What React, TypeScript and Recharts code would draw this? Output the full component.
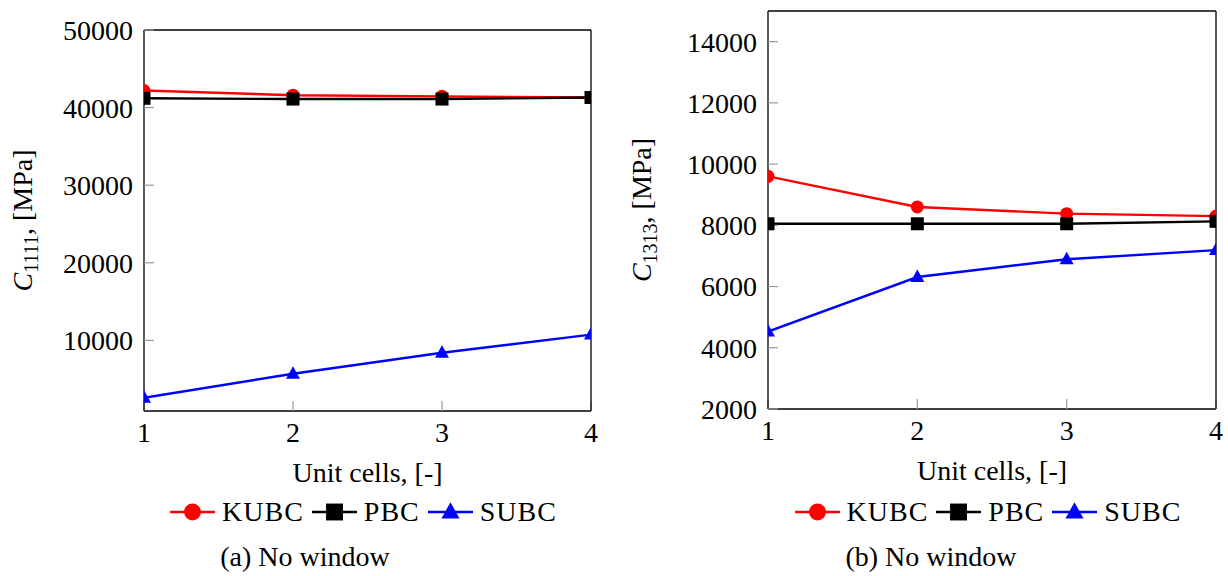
import React from "react";
import { LineChart, Line, XAxis, YAxis } from "recharts";

const units = [1, 2, 3, 4];

// (a) C1111
const kubcA = [42200, 41600, 41450, 41300];
const pbcA = [41200, 41100, 41100, 41300];
const subcA = [2600, 5700, 8400, 10750];

// (b) C1313
const kubcB = [9600, 8600, 8380, 8300];
const pbcB = [8050, 8050, 8050, 8130];
const subcB = [4530, 6310, 6890, 7190];

const yTicksA = [10000, 20000, 30000, 40000, 50000];
const yTicksB = [2000, 4000, 6000, 8000, 10000, 12000, 14000];

const FONT = "Liberation Serif, DejaVu Serif, serif";
const FS = 28;
const W = 614;
const H = 576;

const SERIES = [
  { key: "kubc", name: "KUBC", color: "#ff0000", marker: "circle" },
  { key: "pbc", name: "PBC", color: "#000000", marker: "square" },
  { key: "subc", name: "SUBC", color: "#0000ff", marker: "triangle" },
];

function Marker({ cx, cy, kind, color, s = 1 }: any) {
  if (cx == null || cy == null) return null;
  if (kind === "circle") return <circle cx={cx} cy={cy} r={6.5 * s} fill={color} />;
  if (kind === "square")
    return <rect x={cx - 6.5 * s} y={cy - 6.5 * s} width={13 * s} height={13 * s} fill={color} />;
  return (
    <polygon
      points={`${cx},${cy - 7.5 * s} ${cx - 7 * s},${cy + 5 * s} ${cx + 7 * s},${cy + 5 * s}`}
      fill={color}
    />
  );
}

function YTitle({ viewBox, x, sub }: any) {
  const cy = viewBox.y + viewBox.height / 2;
  return (
    <text
      x={x}
      y={cy}
      transform={`rotate(-90, ${x}, ${cy})`}
      textAnchor="middle"
      style={{ fontFamily: FONT, fontSize: FS }}
      fill="#000"
    >
      <tspan fontStyle="italic">C</tspan>
      <tspan style={{ fontSize: 20 }} dy={6}>
        {sub}
      </tspan>
      <tspan dy={-6}>, [MPa]</tspan>
    </text>
  );
}

function XTitle({ viewBox, gap }: any) {
  return (
    <text
      x={viewBox.x + viewBox.width / 2}
      y={viewBox.y + gap}
      textAnchor="middle"
      style={{ fontFamily: FONT, fontSize: FS }}
      fill="#000"
    >
      Unit cells, [-]
    </text>
  );
}

function LegendRow() {
  return (
    <div
      style={{
        display: "flex",
        alignItems: "center",
        justifyContent: "center",
        height: 32,
        fontFamily: FONT,
        fontSize: FS,
        lineHeight: "28px",
        letterSpacing: 1,
      }}
    >
      {SERIES.map((s) => (
        <div key={s.key} style={{ display: "flex", alignItems: "center" }}>
          <svg width={45} height={22}>
            <line x1={0} y1={11} x2={45} y2={11} stroke={s.color} strokeWidth={2.4} />
            <Marker cx={22.5} cy={11} kind={s.marker} color={s.color} s={1.3} />
          </svg>
          <span style={{ marginLeft: 7, marginRight: 8 }}>{s.name}</span>
        </div>
      ))}
    </div>
  );
}

function Panel({ offsetX, plot, values, yTicks, yDomain, sub, titleX, xGap, caption, captionX }: any) {
  const data = units.map((u, i) => ({
    x: u,
    kubc: values[0][i],
    pbc: values[1][i],
    subc: values[2][i],
  }));
  const yW = 100;
  const xH = 60;
  const margin = {
    left: plot.left - yW,
    right: W - plot.right - 1,
    top: plot.top - 1,
    bottom: H - plot.bottom - xH,
  };
  const axisLine = { stroke: "#000", strokeWidth: 1.3 };
  const tickLine = { stroke: "#999", strokeWidth: 1.2 };
  const tickStyle = { fontSize: FS, fill: "#000", fontFamily: FONT, style: { fontFamily: FONT } };

  return (
    <div style={{ position: "absolute", left: offsetX, top: 0, width: W, height: H }}>
      <LineChart width={W} height={H} data={data} margin={margin} style={{ fontFamily: FONT }}>
        <XAxis
          dataKey="x"
          type="number"
          domain={[1, 4]}
          ticks={units}
          allowDataOverflow
          height={xH}
          tickSize={-10}
          tickMargin={21}
          tick={tickStyle}
          tickLine={tickLine}
          axisLine={axisLine}
          label={(p: any) => <XTitle viewBox={p.viewBox} gap={xGap} />}
        />
        <XAxis
          xAxisId="top"
          orientation="top"
          type="number"
          domain={[1, 4]}
          ticks={units}
          allowDataOverflow
          height={1}
          tickSize={-10}
          tick={false}
          tickLine={tickLine}
          axisLine={axisLine}
        />
        <YAxis
          type="number"
          domain={yDomain}
          ticks={yTicks}
          allowDataOverflow
          width={yW}
          tickSize={-10}
          tickMargin={21}
          tick={tickStyle}
          tickLine={tickLine}
          axisLine={axisLine}
          label={(p: any) => <YTitle viewBox={p.viewBox} x={titleX} sub={sub} />}
        />
        <YAxis
          yAxisId="right"
          orientation="right"
          type="number"
          domain={yDomain}
          ticks={yTicks}
          allowDataOverflow
          width={1}
          tickSize={-10}
          tick={false}
          tickLine={tickLine}
          axisLine={axisLine}
        />
        {SERIES.map((s) => (
          <Line
            key={s.key}
            dataKey={s.key}
            type="linear"
            stroke={s.color}
            strokeWidth={2.4}
            dot={(p: any) => <Marker key={`${s.key}-${p.index}`} cx={p.cx} cy={p.cy} kind={s.marker} color={s.color} />}
            activeDot={false}
            isAnimationActive={false}
          />
        ))}
      </LineChart>
      <div
        style={{
          position: "absolute",
          left: plot.left,
          width: plot.right - plot.left,
          top: 496,
        }}
      >
        <LegendRow />
      </div>
      <div
        style={{
          position: "absolute",
          left: captionX - 150,
          width: 300,
          top: 543,
          textAlign: "center",
          fontFamily: FONT,
          fontSize: FS,
          lineHeight: "28px",
        }}
      >
        {caption}
      </div>
    </div>
  );
}

export default function App() {
  return (
    <div
      style={{
        position: "absolute",
        left: 0,
        top: 0,
        width: 1228,
        height: 576,
        background: "#fff",
        overflow: "hidden",
        fontFamily: FONT,
      }}
    >
      <Panel
        offsetX={0}
        plot={{ left: 144, right: 591, top: 30, bottom: 411 }}
        values={[kubcA, pbcA, subcA]}
        yTicks={yTicksA}
        yDomain={[900, 50000]}
        sub="1111"
        titleX={32}
        xGap={71}
        caption="(a) No window"
        captionX={305}
      />
      <Panel
        offsetX={614}
        plot={{ left: 154, right: 602, top: 11, bottom: 409 }}
        values={[kubcB, pbcB, subcB]}
        yTicks={yTicksB}
        yDomain={[2000, 15000]}
        sub="1313"
        titleX={37}
        xGap={71}
        caption="(b) No window"
        captionX={317}
      />
    </div>
  );
}
